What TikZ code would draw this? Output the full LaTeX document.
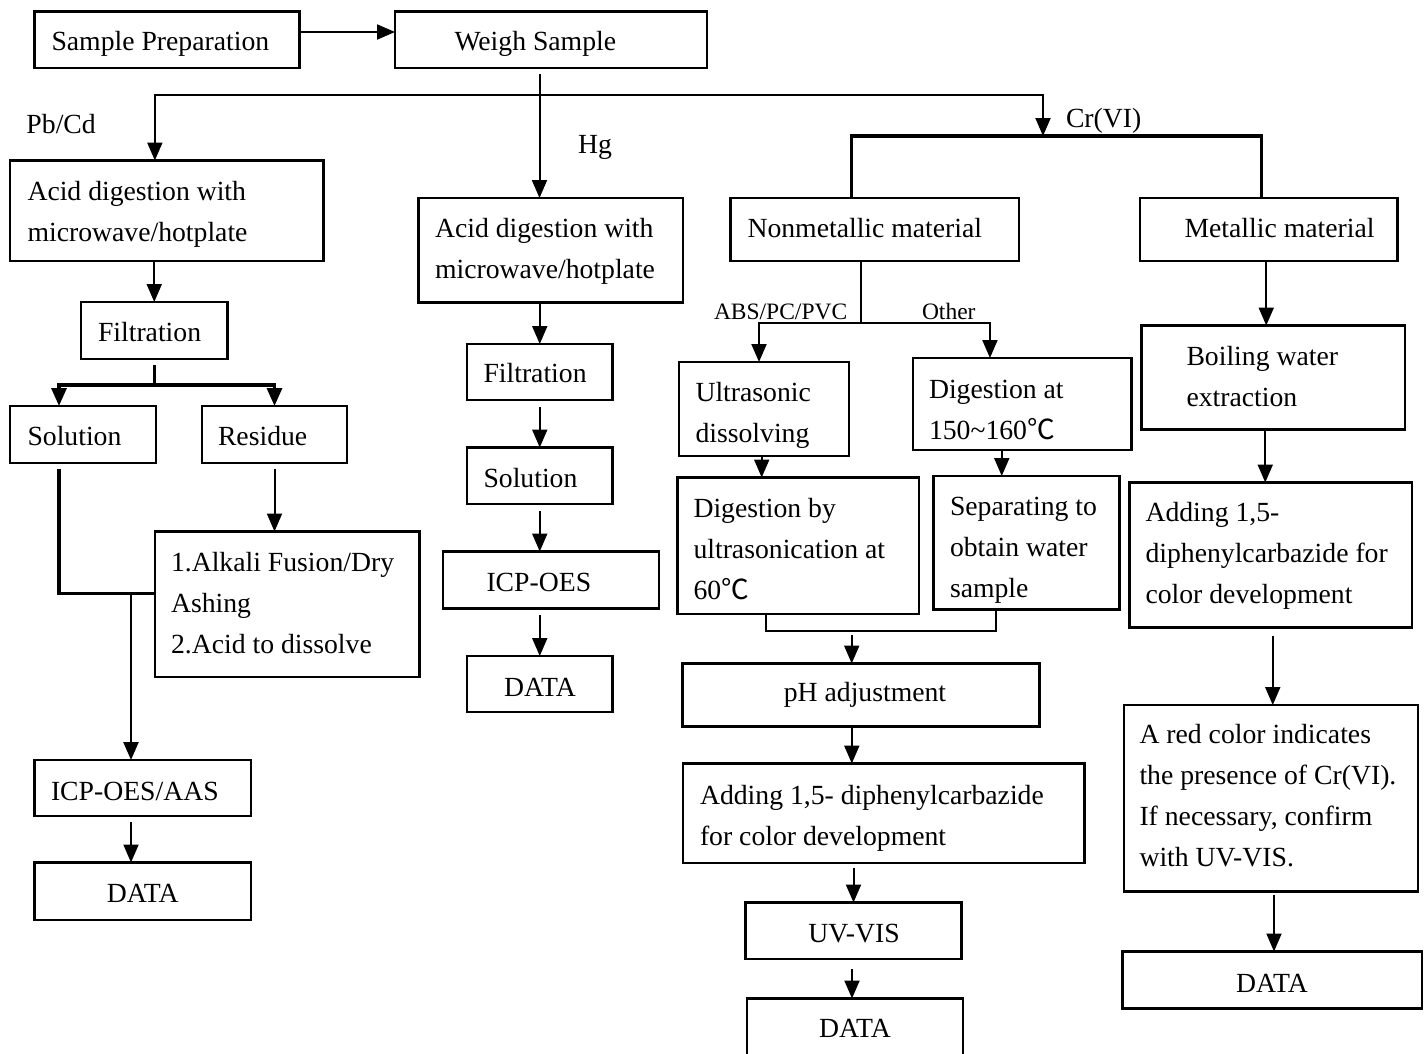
\documentclass[tikz,border=0pt]{standalone}
\usepackage{fontspec}
\setmainfont{Liberation Serif}
\newfontfamily\cjkfont{Noto Sans CJK SC}
\usetikzlibrary{arrows.meta,calc}
\newcommand\degC{{\cjkfont ℃}}
\newcommand\ml[1]{\begin{tabular}[t]{@{}l@{}}#1\end{tabular}}
\begin{document}
\begin{tikzpicture}[x=1pt,y=-1pt,
 box/.style={draw, line width=2.1pt, inner sep=0pt, outer sep=0pt, anchor=north west},
 txt/.style={inner sep=0pt, outer sep=0pt, font=\fontsize{27.7}{41}\selectfont, anchor=base west},
 ctxt/.style={txt, anchor=base},
 small/.style={inner sep=0pt, outer sep=0pt, font=\fontsize{23.5}{28}\selectfont, anchor=base west},
 conn/.style={line width=2pt},
 arr/.style={conn, -{Triangle[length=18pt,width=15pt]}},
 thickc/.style={line width=3.2pt},
 thickarr/.style={thickc, -{Triangle[length=18pt,width=15pt]}}
]
\useasboundingbox (0,0) rectangle (1427,1053);

% boxes
\node[box, minimum width=265pt, minimum height=56.5pt] (sp) at (34.5,11.5) {};
\node[box, minimum width=312pt, minimum height=56.5pt] (weigh) at (395,11.5) {};
\node[box, minimum width=313.5pt, minimum height=100.5pt] (pbacid) at (10,160.5) {};
\node[box, minimum width=264.5pt, minimum height=104.5pt] (hgacid) at (418.5,198) {};
\node[box, minimum width=288.5pt, minimum height=63pt] (nonmet) at (730.5,198) {};
\node[box, minimum width=257.5pt, minimum height=63pt] (met) at (1140,198) {};
\node[box, minimum width=146.5pt, minimum height=57pt] (filt) at (81,302) {};
\node[box, minimum width=146pt, minimum height=57pt] (sol) at (10,406) {};
\node[box, minimum width=145pt, minimum height=57pt] (res) at (202,406) {};
\node[box, minimum width=264.5pt, minimum height=145.5pt] (alk) at (155,531.5) {};
\node[box, minimum width=216.5pt, minimum height=56pt] (icp) at (34.5,760) {};
\node[box, minimum width=216.5pt, minimum height=57.5pt] (datal) at (34.5,862.5) {};
\node[box, minimum width=145.5pt, minimum height=56pt] (hgfilt) at (467,344) {};
\node[box, minimum width=145.5pt, minimum height=56.5pt] (hgsol) at (467,447.5) {};
\node[box, minimum width=216pt, minimum height=57pt] (hgicp) at (443,551.5) {};
\node[box, minimum width=145.5pt, minimum height=56pt] (hgdata) at (467,656) {};
\node[box, minimum width=170pt, minimum height=94pt] (ultra) at (679,362) {};
\node[box, minimum width=218.5pt, minimum height=92pt] (digat) at (913,358) {};
\node[box, minimum width=241.5pt, minimum height=136.5pt] (digby) at (677.5,477.5) {};
\node[box, minimum width=186pt, minimum height=133.5pt] (sep) at (933.5,476) {};
\node[box, minimum width=263.5pt, minimum height=104pt] (boil) at (1141.5,325.5) {};
\node[box, minimum width=282.5pt, minimum height=145pt] (addr) at (1129.5,482.5) {};
\node[box, minimum width=357pt, minimum height=63pt] (ph) at (682.5,663.5) {};
\node[box, minimum width=401.5pt, minimum height=99.5pt] (addm) at (683,763.5) {};
\node[box, minimum width=216pt, minimum height=56.5pt] (uv) at (745.5,902.5) {};
\node[box, minimum width=216pt, minimum height=71.5pt] (datam) at (747,998.5) {};
\node[box, minimum width=294pt, minimum height=186.5pt] (red) at (1124,705) {};
\node[box, minimum width=299.5pt, minimum height=57pt] (datar) at (1122.5,951.5) {};

% texts
\node[txt] (sp-t) at (51.5,50.5) {Sample Preparation};
\node[txt] (weigh-t) at (454.5,50.5) {Weigh Sample};
\node[txt] (pb-l) at (26.5,133) {Pb/Cd};
\node[txt] (hg-l) at (578,153.5) {Hg};
\node[txt] (cr-l) at (1066,127.5) {Cr(VI)};
\node[txt] (pbacid-t) at (27.5,200.5) {\ml{Acid digestion with\\microwave/hotplate}};
\node[txt] (hgacid-t) at (435,237.5) {\ml{Acid digestion with\\microwave/hotplate}};
\node[txt] (nonmet-t) at (747.5,237) {Nonmetallic material};
\node[txt] (met-t) at (1184.5,237) {Metallic material};
\node[small] (abs-l) at (714,319) {ABS/PC/PVC};
\node[small] (oth-l) at (922,319) {Other};
\node[txt] (filt-t) at (98,341.5) {Filtration};
\node[txt] (sol-t) at (27.5,445) {Solution};
\node[txt] (res-t) at (218,445) {Residue};
\node[txt] (alk-t) at (171,571) {\ml{1.Alkali Fusion/Dry\\Ashing\\2.Acid to dissolve}};
\node[txt] (icp-t) at (51,800.5) {ICP-OES/AAS};
\node[ctxt] (datal-t) at (142.75,902) {DATA};
\node[txt] (hgfilt-t) at (483.5,382) {Filtration};
\node[txt] (hgsol-t) at (483.5,487.5) {Solution};
\node[txt] (hgicp-t) at (486.5,591.5) {ICP-OES};
\node[ctxt] (hgdata-t) at (540,696) {DATA};
\node[txt] (ultra-t) at (695.5,401.5) {\ml{Ultrasonic\\dissolving}};
\node[txt] (digat-t) at (929,398.5) {\ml{Digestion at\\150\textasciitilde160\degC}};
\node[txt] (digby-t) at (693.5,517.5) {\ml{Digestion by\\ultrasonication at\\60\degC}};
\node[txt] (sep-t) at (950,515) {\ml{Separating to\\obtain water\\sample}};
\node[ctxt] (ph-t) at (865,701.5) {pH adjustment};
\node[txt] (boil-t) at (1186.5,365.5) {\ml{Boiling water\\extraction}};
\node[txt] (addr-t) at (1145.5,521.5) {\ml{Adding 1,5-\\diphenylcarbazide for\\color development}};
\node[txt] (addm-t) at (700,804) {\ml{Adding 1,5- diphenylcarbazide\\for color development}};
\node[ctxt] (uv-t) at (854,942) {UV-VIS};
\node[ctxt] (datam-t) at (855,1037) {DATA};
\node[txt] (red-t) at (1139.5,743.5) {\ml{A red color indicates\\the presence of Cr(VI).\\If necessary, confirm\\with UV-VIS.}};
\node[ctxt] (datar-t) at (1272,992) {DATA};

% connectors: top
\draw[arr] ($(sp.east)+(0,-7.75)$) -- ($(weigh.west)+(0,-7.75)$);
\coordinate (wgo) at ($(weigh.south)+(-11.5,6)$);
\draw[arr] (wgo) -- (wgo |- hgacid.north);
\coordinate (hub) at (wgo |- 0,94.5);
\coordinate (crin) at (1043,136);
\draw[arr] (hub) -| ($(pbacid.north)+(-11.9,0)$);
\draw[arr] (hub) -| (crin);
\draw[thickc] ($(nonmet.north)+(-23,0)$) |- (crin) -| ($(met.north)+(-7,0)$);

% Cr(VI) nonmetallic
\coordinate (nso) at ($(nonmet.south)+(-14,0)$);
\coordinate (ns) at ($(nonmet.south)+(-14,62)$);
\draw[conn] (nso) -- (ns);
\draw[arr] (ns) -| ($(ultra.north)+(-5,0)$);
\draw[arr] (ns) -| ($(digat.north)+(-32.3,0)$);
\coordinate (u1) at ($(ultra.south)+(-2.3,0)$);
\draw[arr] (u1) -- (u1 |- digby.north);
\coordinate (d1) at ($(digat.south)+(-20.5,0)$);
\draw[arr] (d1) -- (d1 |- sep.north);
\draw[conn] ($(digby.south)+(-32.5,0)$) -- ++(0,17) coordinate (mg) -| ($(sep.south)+(-30.5,0)$);
\coordinate (p1) at ($(ph.north)+(-9.3,-29)$);
\draw[arr] (p1) -- (p1 |- ph.north);
\coordinate (p2) at ($(ph.south)+(-9.2,0)$);
\draw[arr] (p2) -- (p2 |- addm.north);
\coordinate (p3) at ($(addm.south -| uv.north)+(0,4.5)$);
\draw[arr] (p3) -- (uv.north);
\coordinate (p4) at ($(uv.south)+(-1.5,9.5)$);
\draw[arr] (p4) -- (p4 |- datam.north);

% Cr(VI) metallic
\coordinate (m1) at ($(met.south)+(-2.5,0)$);
\draw[arr] (m1) -- (m1 |- boil.north);
\coordinate (b1) at ($(boil.south)+(-8,0)$);
\draw[arr] (b1) -- (b1 |- addr.north);
\coordinate (a1) at ($(addr.south)+(2,8)$);
\draw[arr] (a1) -- (a1 |- red.north);
\coordinate (r1) at ($(red.south)+(3,3.5)$);
\draw[arr] (r1) -- (r1 |- datar.north);

% Pb/Cd column
\draw[arr] (filt.north |- pbacid.south) -- (filt.north);
\coordinate (fso) at ($(filt.south)+(0,6)$);
\coordinate (fs) at ($(filt.south)+(0,26)$);
\draw[thickc] (fso) -- (fs);
\draw[thickarr] (fs) -| ($(sol.north)+(-24,0)$);
\draw[thickarr] (fs) -| (res.north);
\coordinate (r2) at ($(res.south)+(0,6)$);
\draw[arr] (r2) -- (r2 |- alk.north);
\coordinate (s1) at ($(sol.south)+(-24,6)$);
\coordinate (aw) at ($(alk.west)+(0,-11)$);
\draw[thickc] (s1) |- (aw);
\coordinate (ic) at ($(icp.north)+(-11.75,0)$);
\draw[arr, line width=2.4pt] (ic |- aw) -- (ic);
\coordinate (i2) at ($(icp.south)+(-11.75,6)$);
\draw[arr] (i2) -- (i2 |- datal.north);

% Hg column
\draw[arr] (hgfilt.north |- hgacid.south) -- (hgfilt.north);
\coordinate (h1) at ($(hgfilt.south)+(0,6.5)$);
\draw[arr] (h1) -- (h1 |- hgsol.north);
\coordinate (h2) at ($(hgsol.south)+(0,6.5)$);
\draw[arr] (h2) -- (h2 |- hgicp.north);
\coordinate (h3) at ($(hgicp.south -| hgdata.north)+(0,6.5)$);
\draw[arr] (h3) -- (hgdata.north);
\end{tikzpicture}
\end{document}
